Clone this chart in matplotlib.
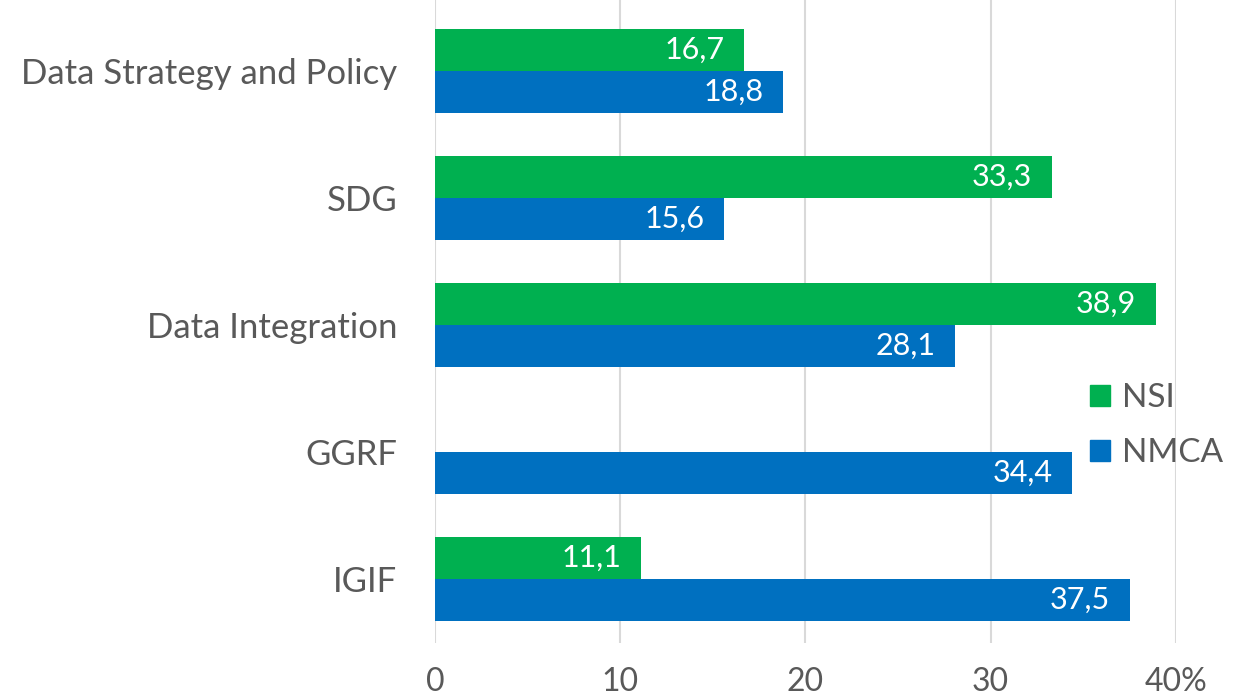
import numpy as np
import matplotlib
matplotlib.use("Agg")
import matplotlib.pyplot as plt
from matplotlib import font_manager
from matplotlib.patches import Patch

# === data ===
categories = ["Data Strategy and Policy", "SDG", "Data Integration", "GGRF", "IGIF"]
nsi = [16.7, 33.3, 38.9, np.nan, 11.1]
nmca = [18.8, 15.6, 28.1, 34.4, 37.5]
xticks = [0, 10, 20, 30, 40]
xtick_labels = ["0", "10", "20", "30", "40%"]

# narrow font close to Calibri if we have it
names = {f.name for f in font_manager.fontManager.ttflist}
font = "Liberation Sans Narrow" if "Liberation Sans Narrow" in names else "Lato"
plt.rcParams["font.family"] = [font, "DejaVu Sans"]

GREEN = "#00B050"
BLUE = "#0070C0"
TEXT = "#595959"

fig = plt.figure(figsize=(12.4, 6.96), dpi=100)
ax = fig.add_axes([0.3508, 0.076, 0.5975, 0.924])

y = np.arange(len(categories))
h = 0.33
bars_nsi = ax.barh(y - h / 2, nsi, height=h, color=GREEN, zorder=2)
bars_nmca = ax.barh(y + h / 2, nmca, height=h, color=BLUE, zorder=2)

for bars, vals in ((bars_nsi, nsi), (bars_nmca, nmca)):
    for b, v in zip(bars, vals):
        if np.isnan(v):
            continue
        ax.annotate(f"{v:.1f}".replace(".", ","),
                    (v, b.get_y() + b.get_height() / 2),
                    xytext=(-14, 0), textcoords="offset points",
                    ha="right", va="center", color="white", fontsize=22)

ax.set_xlim(0, 40)
ax.set_ylim(4.504, -0.559)
ax.set_xticks(xticks)
ax.set_xticklabels(xtick_labels)
ax.set_yticks(y)
ax.set_yticklabels(categories)
ax.tick_params(axis="x", length=0, pad=17, labelsize=23, labelcolor=TEXT)
ax.tick_params(axis="y", length=0, pad=27, labelsize=25, labelcolor=TEXT)
ax.grid(axis="x", color="#D9D9D9", linewidth=1.5, zorder=0)
for s in ax.spines.values():
    s.set_visible(False)

handles = [Patch(color=GREEN, label="NSI"), Patch(color=BLUE, label="NMCA")]
fig.legend(handles=handles, loc="center left", bbox_to_anchor=(0.855, 0.388),
           frameon=False, fontsize=24, labelcolor=TEXT,
           handlelength=0.6, handleheight=0.6, handletextpad=0.35,
           labelspacing=0.75)

fig.savefig("out.png", dpi=100)
